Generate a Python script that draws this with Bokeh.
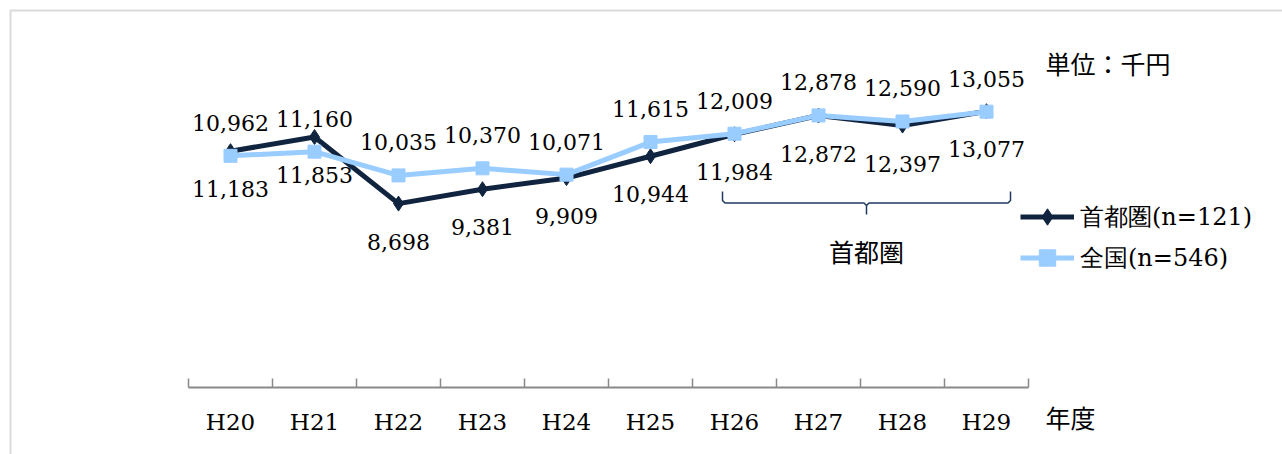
from bokeh.plotting import figure
from bokeh.models import (Range1d, LinearAxis, FixedTicker, Legend, LegendItem,
                          Label, BoxAnnotation, ColumnDataSource)
from bokeh.core.properties import value
from bokeh.embed import file_html
from bokeh.resources import INLINE

# ---- data ----
years = ["H20", "H21", "H22", "H23", "H24", "H25", "H26", "H27", "H28", "H29"]
shutoken = [11183, 11853, 8698, 9381, 9909, 10944, 11984, 12872, 12397, 13077]
zenkoku = [10962, 11160, 10035, 10370, 10071, 11615, 12009, 12878, 12590, 13055]
series_names = ["首都圏(n=121)", "全国(n=546)"]
unit_text = "単位：千円"
year_axis_text = "年度"
brace_text = "首都圏"

# ---- layout / style ----
W, H = 1282, 454
PX_PER_CAT = 84.0
X0 = 188.0          # canvas px of category boundary 0
VPP = 47.4          # value per pixel
Y0 = 386.6          # canvas px of value 0

DARK = "#10243F"
LIGHT = "#99CCFF"
GRAY = "#898989"
SERIF = "DejaVu Serif"
CJK = "Noto Sans CJK JP"


def px_to_x(cx):
    return (cx - X0) / PX_PER_CAT


def px_to_y(cy):
    return (Y0 - cy) * VPP


x_range = Range1d(px_to_x(0), px_to_x(W))
y_range = Range1d(px_to_y(H), px_to_y(0))

p = figure(width=W, height=H, x_range=x_range, y_range=y_range,
           output_backend="svg", toolbar_location=None,
           x_axis_location=None, y_axis_location=None,
           min_border=0, outline_line_color=None)
p.xgrid.visible = False
p.ygrid.visible = False
p.background_fill_color = "white"
p.border_fill_color = "white"

xs = [i + 0.5 for i in range(len(years))]
src = ColumnDataSource(dict(
    x=xs, s=shutoken, z=zenkoku,
    sl=[f"{v:,}" for v in shutoken],
    zl=[f"{v:,}" for v in zenkoku],
))

# outer frame (left/top edges visible)
p.add_layout(BoxAnnotation(left=px_to_x(10.0), top=px_to_y(10.0),
                           right=px_to_x(W + 200), bottom=px_to_y(H + 200),
                           fill_alpha=0, line_color=GRAY, line_width=2))

# axis at value 0
ax = LinearAxis(fixed_location=0, bounds=(0, len(years)),
                ticker=FixedTicker(ticks=xs, minor_ticks=list(range(len(years) + 1))),
                major_label_overrides={x: y for x, y in zip(xs, years)},
                axis_line_color=GRAY, axis_line_width=2,
                major_tick_line_color=None,
                minor_tick_line_color=GRAY, minor_tick_line_width=1.5,
                minor_tick_in=9, minor_tick_out=0,
                major_label_text_font=SERIF, major_label_text_font_size="23px",
                major_label_text_color="black", major_label_standoff=16)
p.add_layout(ax, "below")

# series
r1l = p.line("x", "s", source=src, line_color=DARK, line_width=5)
r1m = p.scatter("x", "s", source=src, marker="diamond", size=15,
                fill_color=DARK, line_color=DARK)
r2l = p.line("x", "z", source=src, line_color=LIGHT, line_width=5)
r2m = p.scatter("x", "z", source=src, marker="square", size=13,
                fill_color=LIGHT, line_color=LIGHT)

# data labels
p.text("x", "s", text="sl", source=src, text_align="center", text_baseline="middle",
       y_offset=38, text_font=value(SERIF), text_font_size="22px", text_color="black")
p.text("x", "z", text="zl", source=src, text_align="center", text_baseline="middle",
       y_offset=-33, text_font=value(SERIF), text_font_size="22px", text_color="black")

# brace under H26-H29
bx0, bx1, bxm = px_to_x(722), px_to_x(1010), px_to_x(866)
yt, yh, yb = px_to_y(191), px_to_y(202.5), px_to_y(214)
r = 2.5 / PX_PER_CAT
ry = 2.5 * VPP
p.line([bx0, bx0, bx0 + r, bxm - r, bxm, bxm],
       [yt, yh + ry, yh, yh, yh - ry, yb], line_color="#1F3A60", line_width=1.5)
p.line([bx1, bx1, bx1 - r, bxm + r, bxm],
       [yt, yh + ry, yh, yh, yh - ry], line_color="#1F3A60", line_width=1.5)

# texts
p.add_layout(Label(x=px_to_x(1045), y=px_to_y(62), text=unit_text,
                   text_font=CJK, text_font_size="25px", text_color="black",
                   text_baseline="middle", text_align="left"))
p.add_layout(Label(x=px_to_x(1045), y=px_to_y(416), text=year_axis_text,
                   text_font=CJK, text_font_size="25px", text_color="black",
                   text_baseline="middle", text_align="left"))
p.add_layout(Label(x=px_to_x(866), y=px_to_y(250), text=brace_text,
                   text_font=CJK, text_font_size="25px", text_color="black",
                   text_baseline="middle", text_align="center"))

# legend
legend = Legend(items=[LegendItem(label=series_names[0], renderers=[r1l, r1m]),
                       LegendItem(label=series_names[1], renderers=[r2l, r2m])],
                location=(1020, H - 196 - 82), orientation="vertical",
                glyph_width=54, glyph_height=41, label_height=41, spacing=0,
                padding=0, margin=0, label_standoff=6,
                label_text_font=SERIF, label_text_font_size="24px",
                label_text_color="black",
                border_line_color=None, background_fill_alpha=0)
p.add_layout(legend, "center")

open("out.html", "w").write(file_html(p, INLINE))
